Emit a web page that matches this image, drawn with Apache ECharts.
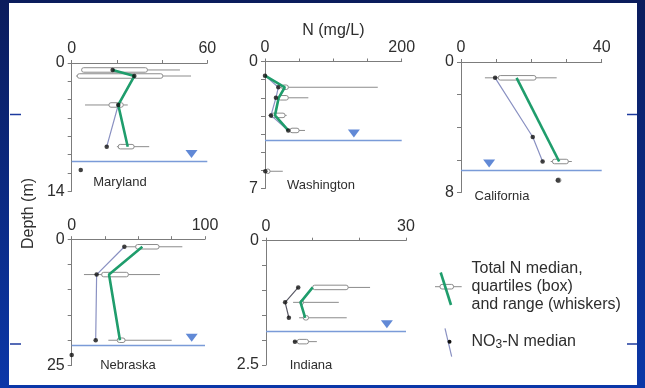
<!DOCTYPE html>
<html>
<head>
<meta charset="utf-8">
<script src="https://cdn.jsdelivr.net/npm/echarts@6/dist/echarts.min.js"></script>
<style>
html,body{margin:0;padding:0;}
#c{width:645px;height:388px;}
</style>
</head>
<body>
<div id="c"></div>
<script>
// ---------- DATA ----------
// Maryland (N 0-60 mg/L, depth 0-14 m)
const mdDepth = [0.76, 1.42, 4.58, 9.13];
const mdTotMed = [18.1, 27.7, 20.6, 24.8];
const mdLo = [4.4, 1.9, 5.9, 20.0];
const mdQ1 = [4.4, 2.5, 16.5, 20.6];
const mdQ3 = [33.5, 40.3, 22.8, 27.6];
const mdHi = [47.9, 52.8, 24.8, 34.3];
const mdNo3 = [18.1, 27.7, 20.6, 15.5];
const mdIsoDepth = [11.67];
const mdIsoNo3 = [4.0];
const mdWaterTable = 10.7;
const mdTriX = 53;
const mdXTicks = [0, 60];
const mdYTicks = [0, 14];

// Washington (N 0-200 mg/L, depth 0-7 m)
const waDepth = [0.78, 1.42, 2.0, 2.97, 3.8];
const waTotMed = [0, 29, 20, 14.6, 34];
const waBoxDepth = [1.42, 2.0, 2.97, 3.8, 6.05];
const waLo = [24.4, 19.5, 4.9, 36.6, 1.0];
const waQ1 = [24.4, 19.5, 7.3, 36.6, 1.0];
const waQ3 = [34.1, 34.0, 29.3, 49.8, 7.3];
const waHi = [165, 63.4, 31.7, 58.5, 26];
const waNo3 = [0, 19.5, 16, 8.8, 34];
const waIsoDepth = [6.05];
const waIsoNo3 = [0.5];
const waWaterTable = 4.36;
const waTriX = 130;
const waXTicks = [0, 200];
const waYTicks = [0, 7];

// California (N 0-40 mg/L, depth 0-8 m)
const caBoxDepth = [0.97, 6.1, 7.25];
const caTotMedDepth = [0.97, 6.1];
const caTotMed = [15.8, 27.9];
const caLo = [6.8, 25.5, 27.0];
const caQ1 = [10.6, 26.0, 27.0];
const caQ3 = [21.3, 30.5, 28.4];
const caHi = [27.2, 31.5, 28.4];
const caNo3Depth = [0.97, 4.6, 6.1];
const caNo3 = [9.7, 20.4, 23.2];
const caIsoDepth = [7.25];
const caIsoNo3 = [27.6];
const caWaterTable = 6.65;
const caTriX = 8;
const caXTicks = [0, 40];
const caYTicks = [0, 8];

// Nebraska (N 0-100 mg/L, depth 0-25 m)
const neDepth = [1.5, 7.0, 20.0];
const neTotMed = [53, 28, 36.2];
const neLo = [40.5, 9.2, 27.5];
const neQ1 = [48, 22.5, 34.2];
const neQ3 = [65.5, 42.5, 40];
const neHi = [83, 66.2, 75];
const neNo3 = [39.5, 18.7, 18];
const neIsoDepth = [22.9];
const neIsoNo3 = [0];
const neWaterTable = 20.9;
const neTriX = 90;
const neXTicks = [0, 100];
const neYTicks = [0, 25];

// Indiana (N 0-30 mg/L, depth 0-2.5 m)
const inDepth = [0.94, 1.24, 1.55];
const inTotMed = [10, 7.4, 8.4];
const inBoxDepth = [0.94, 1.24, 1.55, 2.03];
const inLo = [10, 5.8, 7.1, 5.8];
const inQ1 = [10, 7.3, 8.0, 6.7];
const inQ3 = [17.6, 8.0, 9.1, 9.1];
const inHi = [22.3, 15.6, 17.3, 10.9];
const inNo3 = [6.9, 4.1, 4.9];
const inIsoDepth = [2.03];
const inIsoNo3 = [6.2];
const inWaterTable = 1.82;
const inTriX = 25.9;
const inXTicks = [0, 30];
const inYTicks = [0, 2.5];

// ---------- STYLE ----------
const FONT = 'Liberation Sans, Arial, sans-serif';
const GREEN = '#1f9d6c';
const NO3C = '#8a91c2';
const AXC = '#7c7c7c';
const TXT = '#2e2e2e';
const WTC = '#7a9bd8';
const TRIC = '#3a6ccc';

const zip = (a, b) => a.map((v, i) => [v, b[i]]);
const boxes = (d, lo, q1, q3, hi) => d.map((v, i) => [v, lo[i], q1[i], q3[i], hi[i]]);

function boxRender(params, api) {
  const d = api.value(0);
  const pLo = api.coord([api.value(1), d]);
  const pQ1 = api.coord([api.value(2), d]);
  const pQ3 = api.coord([api.value(3), d]);
  const pHi = api.coord([api.value(4), d]);
  const h = 4.5;
  return {
    type: 'group',
    children: [
      {type: 'line', shape: {x1: pLo[0], y1: pLo[1], x2: pHi[0], y2: pHi[1]},
       style: {stroke: '#8c8c8c', lineWidth: 1}},
      {type: 'rect', shape: {x: pQ1[0], y: pQ1[1] - h / 2, width: Math.max(pQ3[0] - pQ1[0], 3), height: h, r: 2},
       style: {fill: '#ffffff', stroke: '#8c8c8c', lineWidth: 1}}
    ]
  };
}

const panels = [
  {grid: {left: 71.7, top: 63, width: 135.6, height: 128.3}, xmax: 60, xint: 20, ymax: 14, yint: 2,
   xt: mdXTicks, yt: mdYTicks, no3c: NO3C,
   box: boxes(mdDepth, mdLo, mdQ1, mdQ3, mdHi), tot: zip(mdTotMed, mdDepth),
   no3: zip(mdNo3, mdDepth), iso: zip(mdIsoNo3, mdIsoDepth), wt: mdWaterTable, tri: mdTriX},
  {grid: {left: 265, top: 61.5, width: 136.7, height: 127}, xmax: 200, xint: 50, ymax: 7, yint: 1,
   xt: waXTicks, yt: waYTicks, name: 'N (mg/L)', no3c: NO3C,
   box: boxes(waBoxDepth, waLo, waQ1, waQ3, waHi), tot: zip(waTotMed, waDepth),
   no3: zip(waNo3, waDepth), iso: zip(waIsoNo3, waIsoDepth), wt: waWaterTable, tri: waTriX},
  {grid: {left: 461, top: 62, width: 140.7, height: 130.5}, xmax: 40, xint: 10, ymax: 8, yint: 2,
   xt: caXTicks, yt: caYTicks, no3c: NO3C,
   box: boxes(caBoxDepth, caLo, caQ1, caQ3, caHi), tot: zip(caTotMed, caTotMedDepth),
   no3: zip(caNo3, caNo3Depth), iso: zip(caIsoNo3, caIsoDepth), wt: caWaterTable, tri: caTriX},
  {grid: {left: 71.7, top: 239.2, width: 133.3, height: 126.3}, xmax: 100, xint: 25, ymax: 25, yint: 5,
   xt: neXTicks, yt: neYTicks, no3c: NO3C,
   box: boxes(neDepth, neLo, neQ1, neQ3, neHi), tot: zip(neTotMed, neDepth),
   no3: zip(neNo3, neDepth), iso: zip(neIsoNo3, neIsoDepth), wt: neWaterTable, tri: neTriX},
  {grid: {left: 266, top: 240.7, width: 140, height: 124.3}, xmax: 30, xint: 10, ymax: 2.5, yint: 0.5,
   xt: inXTicks, yt: inYTicks, no3c: '#5a5a66',
   box: boxes(inBoxDepth, inLo, inQ1, inQ3, inHi), tot: zip(inTotMed, inDepth),
   no3: zip(inNo3, inDepth), iso: zip(inIsoNo3, inIsoDepth), wt: inWaterTable, tri: inTriX}
];

const grid = [], xAxis = [], yAxis = [], series = [];
panels.forEach((p, i) => {
  grid.push(Object.assign({containLabel: false}, p.grid));
  xAxis.push({
    type: 'value', gridIndex: i, position: 'top', min: 0, max: p.xmax, interval: p.xint,
    name: p.name || '', nameLocation: 'middle', nameGap: 28,
    nameTextStyle: {color: TXT, fontSize: 16, fontFamily: FONT, verticalAlign: 'middle'},
    axisLine: {show: true, lineStyle: {color: AXC, width: 1}},
    axisTick: {show: true, length: 3, lineStyle: {color: AXC}},
    splitLine: {show: false},
    axisLabel: {color: TXT, fontSize: 16, fontFamily: FONT, margin: 6,
      formatter: v => p.xt.includes(v) ? String(v) : ''}
  });
  yAxis.push({
    type: 'value', gridIndex: i, inverse: true, min: 0, max: p.ymax, interval: p.yint,
    axisLine: {show: true, lineStyle: {color: AXC, width: 1}},
    axisTick: {show: true, length: 4, lineStyle: {color: AXC}},
    splitLine: {show: false},
    axisLabel: {color: TXT, fontSize: 16, fontFamily: FONT, margin: 7,
      formatter: v => p.yt.includes(v) ? String(v) : ''}
  });
  series.push({
    type: 'custom', xAxisIndex: i, yAxisIndex: i, renderItem: boxRender,
    encode: {x: [1, 2, 3, 4], y: 0}, data: p.box, z: 2, silent: true
  });
  series.push({
    type: 'line', xAxisIndex: i, yAxisIndex: i, data: p.no3, showSymbol: false, z: 3,
    lineStyle: {color: p.no3c, width: 1.2}, silent: true,
    markLine: {symbol: 'none', silent: true, label: {show: false},
      lineStyle: {color: WTC, width: 1.4, type: 'solid'}, data: [{yAxis: p.wt}]}
  });
  series.push({
    type: 'line', xAxisIndex: i, yAxisIndex: i, data: p.tot, showSymbol: false, z: 4,
    lineStyle: {color: GREEN, width: 2.6}, silent: true
  });
  series.push({
    type: 'scatter', xAxisIndex: i, yAxisIndex: i, data: p.no3.concat(p.iso), z: 5,
    symbol: 'circle', symbolSize: 4.5, itemStyle: {color: '#111'}, silent: true
  });
  series.push({
    type: 'scatter', xAxisIndex: i, yAxisIndex: i, data: [[p.tri, p.wt]], z: 5,
    symbol: 'triangle', symbolRotate: 180, symbolSize: [12, 8], symbolOffset: [0, -7],
    itemStyle: {color: TRIC}, silent: true
  });
});

const txt = (x, y, s, extra) => Object.assign({
  type: 'text', x: x, y: y, z: 10,
  style: {text: s, fill: TXT, font: '13px ' + FONT, textAlign: 'center', textVerticalAlign: 'middle'}
}, extra || {});

const graphic = [
  {type: 'rect', shape: {x: 9, y: 3, width: 628, height: 382}, style: {fill: '#ffffff'}, z: -100, silent: true},
  {type: 'line', shape: {x1: 10, y1: 114.5, x2: 21, y2: 114.5}, style: {stroke: '#1c3a9e', lineWidth: 1.5}, z: 10},
  {type: 'line', shape: {x1: 627, y1: 114.5, x2: 637, y2: 114.5}, style: {stroke: '#1c3a9e', lineWidth: 1.5}, z: 10},
  {type: 'line', shape: {x1: 10, y1: 344, x2: 21, y2: 344}, style: {stroke: '#1c3a9e', lineWidth: 1.5}, z: 10},
  {type: 'line', shape: {x1: 627, y1: 344, x2: 637, y2: 344}, style: {stroke: '#1c3a9e', lineWidth: 1.5}, z: 10},
  txt(120, 182, 'Maryland'),
  txt(321, 185, 'Washington'),
  txt(502, 196, 'California'),
  txt(128, 365, 'Nebraska'),
  txt(311, 365, 'Indiana'),
  {type: 'text', x: 29, y: 213.5, rotation: Math.PI / 2, z: 10,
   style: {text: 'Depth (m)', fill: TXT, font: '16px ' + FONT, textAlign: 'center', textVerticalAlign: 'middle'}},
  // legend: total N
  {type: 'line', shape: {x1: 435, y1: 286.7, x2: 461.7, y2: 286.7}, style: {stroke: '#8c8c8c', lineWidth: 1}, z: 10},
  {type: 'rect', shape: {x: 440, y: 284.4, width: 13.5, height: 4.6, r: 2}, style: {fill: '#fff', stroke: '#8c8c8c', lineWidth: 1}, z: 10},
  {type: 'line', shape: {x1: 440.7, y1: 272.5, x2: 451, y2: 305}, style: {stroke: GREEN, lineWidth: 2.6}, z: 11},
  {type: 'text', x: 471.5, y: 268.5, z: 10, style: {text: 'Total N median,', fill: TXT, font: '16px ' + FONT, textVerticalAlign: 'middle'}},
  {type: 'text', x: 471.5, y: 286.8, z: 10, style: {text: 'quartiles (box)', fill: TXT, font: '16px ' + FONT, textVerticalAlign: 'middle'}},
  {type: 'text', x: 471.5, y: 305, z: 10, style: {text: 'and range (whiskers)', fill: TXT, font: '16px ' + FONT, textVerticalAlign: 'middle'}},
  // legend: NO3
  {type: 'line', shape: {x1: 445, y1: 328.3, x2: 451.7, y2: 356.7}, style: {stroke: NO3C, lineWidth: 1.2}, z: 10},
  {type: 'circle', shape: {cx: 449.5, cy: 341.7, r: 2}, style: {fill: '#111'}, z: 11},
  {type: 'text', x: 471.5, y: 341.7, z: 10, style: {
    text: 'NO{s|3}-N median', fill: TXT, font: '16px ' + FONT, textVerticalAlign: 'middle',
    rich: {s: {fontSize: 12, fontFamily: FONT, fill: TXT, padding: [6, 0, 0, 0]}}}}
];

const chart = echarts.init(document.getElementById('c'), null, {renderer: 'canvas'});
chart.setOption({
  animation: false,
  backgroundColor: {type: 'linear', x: 0, y: 0, x2: 0, y2: 1,
    colorStops: [{offset: 0, color: '#0b1c5c'}, {offset: 1, color: '#0b37a8'}]},
  textStyle: {fontFamily: FONT},
  grid: grid, xAxis: xAxis, yAxis: yAxis, series: series, graphic: graphic
});
</script>
</body>
</html>
